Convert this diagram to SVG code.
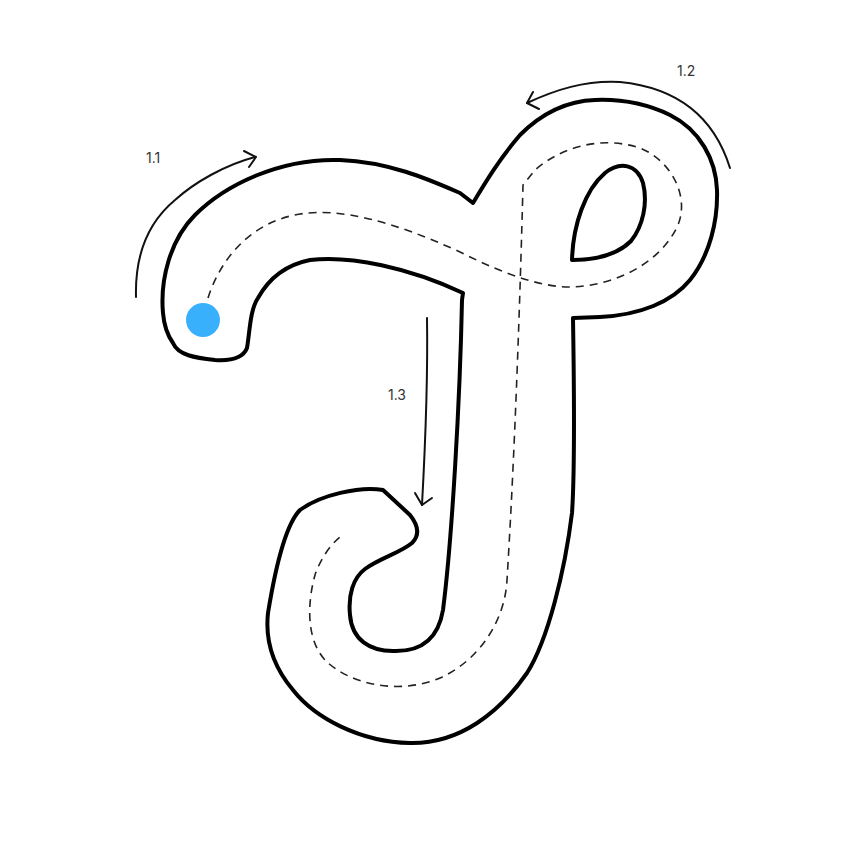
<svg xmlns="http://www.w3.org/2000/svg" width="864" height="864" viewBox="0 0 864 864">
<style>
.outline{fill:none;stroke:#000;stroke-width:4;stroke-linejoin:round;stroke-linecap:round}
.guide{fill:none;stroke:#222;stroke-width:1.6;stroke-dasharray:8 6}
.arrow{fill:none;stroke:#111;stroke-width:2;stroke-linecap:round;stroke-linejoin:round}
.lbl{font-family:Inter,"Liberation Sans",sans-serif;font-size:14px;fill:#333}
</style>
<rect width="864" height="864" fill="#fff"/>
<g id="letter">
<path class="outline" d="M173,343 C178,355 195,358 215,360 C230,361 243,358 247,348 C250,330 250,310 258,298 C268,280 285,265 310,260 C350,255 410,268 463,293 L462,300 C460,400 452,540 443,610 C438,640 420,652 393,651 C370,651 352,640 350,615 C348,595 353,578 365,569 C380,558 400,553 412,543 C420,535 418,525 410,515 L383,490 C360,486 320,495 300,510 C285,525 275,570 268,613 C265,640 272,665 293,690 C315,718 360,742 410,743 C460,744 500,712 527,673 C548,640 565,570 572,513 C575,470 574,380 573,318 L600,317 C640,315 672,302 690,280 C710,255 718,220 717,190 C716,160 700,130 670,115 C645,103 620,99 595,100 C565,101 540,115 520,135 C500,158 485,183 473,203 L460,193 C430,180 390,162 340,160 C280,158 225,185 195,215 C170,240 160,280 163,313 C164,325 168,336 173,343 Z"/>
<path class="outline" d="M572,260 C573,225 585,190 605,173 C620,161 637,164 643,183 C648,203 643,226 631,241 C616,256 595,260 572,260 Z"/>
</g>
<g id="guide">
<path class="guide" d="M208,298 C220,260 250,222 300,214 C340,208 390,220 460,252 C490,267 530,285 565,287 C610,288 660,265 678,225 C690,195 670,160 640,148 C600,135 560,148 535,170 L523,185 C520,300 515,450 507,580 C505,620 480,660 440,678 C400,695 350,685 325,660 C305,638 308,600 315,575 C320,560 330,545 340,537"/>
</g>
<g id="start">
<circle cx="203" cy="320" r="17" fill="#38b0fc"/>
</g>
<g id="connectors">
<path class="arrow" d="M136,297 C135,260 145,225 175,200 C195,182 225,165 255,157"/>
<path class="arrow" d="M244,151 L256,157 L249,167"/>
<path class="arrow" d="M730,168 C715,120 680,88 620,82 C585,80 555,90 527,103"/>
<path class="arrow" d="M533,92 L527,103 L539,109"/>
<path class="arrow" d="M427,318 C428,380 425,450 422,505"/>
<path class="arrow" d="M415,493 L422,505 L432,498"/>
</g>
<g id="labels">
<text class="lbl" x="146" y="163">1.1</text>
<text class="lbl" x="677" y="76">1.2</text>
<text class="lbl" x="388" y="400">1.3</text>
</g>
</svg>
